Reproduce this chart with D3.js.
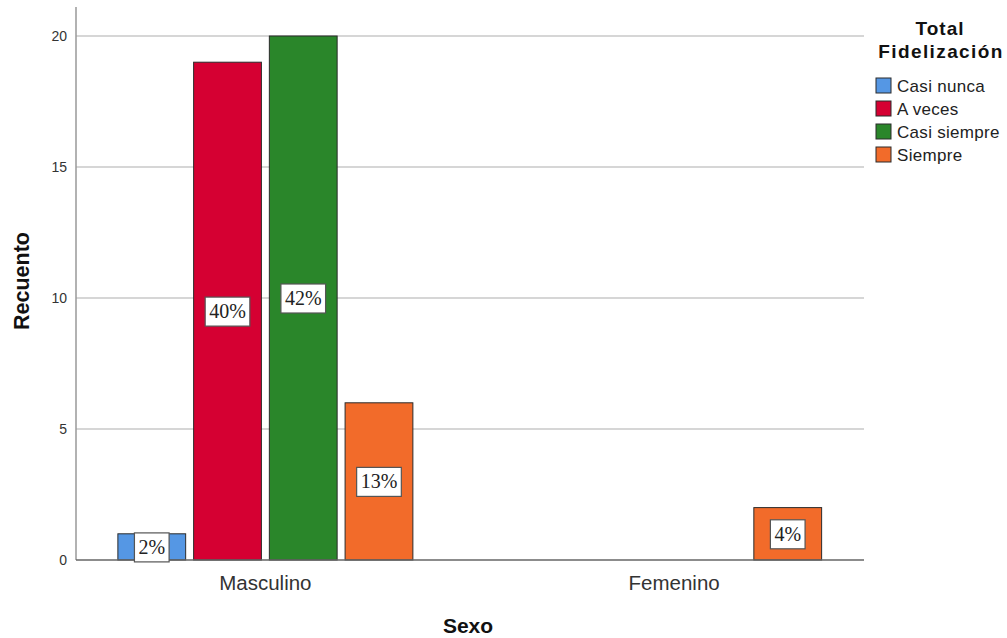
<!DOCTYPE html>
<html>
<head>
<meta charset="utf-8">
<script src="https://cdn.jsdelivr.net/npm/d3@7/dist/d3.min.js"></script>
<style>
  body { margin: 0; background: #fff; }
  svg { display: block; }
</style>
</head>
<body>
<svg id="chart" width="1007" height="638"></svg>
<script>
// Clustered bar chart: Recuento by Sexo, grouped by Total Fidelización
const categories = ["Masculino", "Femenino"];
const seriesNames = ["Casi nunca", "A veces", "Casi siempre", "Siempre"];
const seriesColors = ["#5597e4", "#d50032", "#2a862a", "#f26b2a"];
const masculinoCounts = [1, 19, 20, 6];
const femeninoCounts = [0, 0, 0, 2];
const masculinoLabels = ["2%", "40%", "42%", "13%"];
const femeninoLabels = [null, null, null, "4%"];
const yTicks = [0, 5, 10, 15, 20];

const counts = [masculinoCounts, femeninoCounts];
const labels = [masculinoLabels, femeninoLabels];

const sans = "Liberation Sans, Arial, sans-serif";
const svg = d3.select("#chart");

const plotLeft = 76, plotRight = 864, plotTop = 7;
const x = d3.scaleBand().domain(categories).range([61, 878.5]).padding(0);
const xInner = d3.scaleBand().domain(seriesNames).range([-147.5, 147.5]).paddingInner(0.105).paddingOuter(0);
const y = d3.scaleLinear().domain([0, 20]).range([560, 36]);

// gridlines
svg.append("g")
  .selectAll("line")
  .data(yTicks.filter(d => d > 0))
  .join("line")
  .attr("x1", plotLeft).attr("x2", plotRight)
  .attr("y1", d => y(d)).attr("y2", d => y(d))
  .attr("stroke", "#c8c8c8").attr("stroke-width", 1.5);

// y axis
const yAxis = d3.axisLeft(y).tickValues(yTicks).tickSize(0).tickPadding(9);
const gy = svg.append("g").attr("transform", `translate(${plotLeft},0)`).call(yAxis);
gy.select(".domain").remove();
gy.selectAll("text")
  .attr("font-family", sans)
  .attr("font-size", 14).attr("fill", "#333");
svg.append("line")
  .attr("x1", plotLeft).attr("x2", plotLeft)
  .attr("y1", plotTop).attr("y2", y(0))
  .attr("stroke", "#999").attr("stroke-width", 1.5);

// bars
const rows = [];
categories.forEach((c, ci) => {
  seriesNames.forEach((s, si) => {
    rows.push({ cat: c, series: s, value: counts[ci][si], label: labels[ci][si], color: seriesColors[si] });
  });
});

const barRows = rows.filter(d => d.value > 0);
svg.append("g")
  .selectAll("rect")
  .data(barRows)
  .join("rect")
  .attr("x", d => x(d.cat) + x.bandwidth() / 2 + xInner(d.series))
  .attr("y", d => y(d.value))
  .attr("width", xInner.bandwidth())
  .attr("height", d => y(0) - y(d.value))
  .attr("fill", d => d.color)
  .attr("stroke", "#2b2b2b").attr("stroke-width", 1);

// baseline
svg.append("line")
  .attr("x1", plotLeft).attr("x2", plotRight)
  .attr("y1", y(0)).attr("y2", y(0))
  .attr("stroke", "#666").attr("stroke-width", 1.5);

// percentage labels in boxes
const lab = svg.append("g").selectAll("g")
  .data(barRows.filter(d => d.label))
  .join("g")
  .attr("transform", d => `translate(${x(d.cat) + x.bandwidth() / 2 + xInner(d.series) + xInner.bandwidth() / 2},${y(d.value / 2)})`);
lab.each(function(d) {
  const g = d3.select(this);
  const t = g.append("text")
    .attr("text-anchor", "middle")
    .attr("dy", "0.35em")
    .attr("font-family", "Liberation Serif, Times New Roman, serif")
    .attr("font-size", 20)
    .attr("fill", "#222")
    .text(d.label);
  const w = t.node().getComputedTextLength() + 8;
  g.insert("rect", "text")
    .attr("x", -w / 2).attr("y", -14)
    .attr("width", w).attr("height", 29)
    .attr("fill", "#fff")
    .attr("stroke", "#555").attr("stroke-width", 1.2);
});

// x axis labels
svg.append("g")
  .selectAll("text")
  .data(categories)
  .join("text")
  .attr("x", d => x(d) + x.bandwidth() / 2)
  .attr("y", 590)
  .attr("text-anchor", "middle")
  .attr("font-family", sans)
  .attr("font-size", 20.5).attr("fill", "#333")
  .text(d => d);

// axis titles
svg.append("text")
  .attr("x", (plotLeft + plotRight) / 2 - 2).attr("y", 633)
  .attr("text-anchor", "middle")
  .attr("font-family", sans)
  .attr("font-size", 21).attr("font-weight", "bold").attr("fill", "#111")
  .text("Sexo");
svg.append("text")
  .attr("transform", "translate(29,281) rotate(-90)")
  .attr("text-anchor", "middle")
  .attr("font-family", sans)
  .attr("font-size", 21.5).attr("font-weight", "bold").attr("fill", "#111")
  .text("Recuento");

// legend
const legend = svg.append("g");
legend.append("text")
  .attr("x", 940).attr("y", 35)
  .attr("text-anchor", "middle")
  .attr("font-family", sans)
  .attr("font-size", 19).attr("letter-spacing", 1).attr("font-weight", "bold").attr("fill", "#111")
  .text("Total");
legend.append("text")
  .attr("x", 941).attr("y", 58)
  .attr("text-anchor", "middle")
  .attr("font-family", sans)
  .attr("font-size", 19).attr("letter-spacing", 1.4).attr("font-weight", "bold").attr("fill", "#111")
  .text("Fidelización");
const li = legend.selectAll("g.item")
  .data(seriesNames)
  .join("g")
  .attr("class", "item")
  .attr("transform", (d, i) => `translate(876,${78 + i * 23})`);
li.append("rect")
  .attr("width", 15).attr("height", 15)
  .attr("fill", (d, i) => seriesColors[i])
  .attr("stroke", "#2b2b2b").attr("stroke-width", 1);
li.append("text")
  .attr("x", 21).attr("y", 8).attr("dy", "0.35em")
  .attr("font-family", sans)
  .attr("font-size", 17).attr("letter-spacing", 0.3).attr("fill", "#222")
  .text(d => d);
</script>
</body>
</html>
